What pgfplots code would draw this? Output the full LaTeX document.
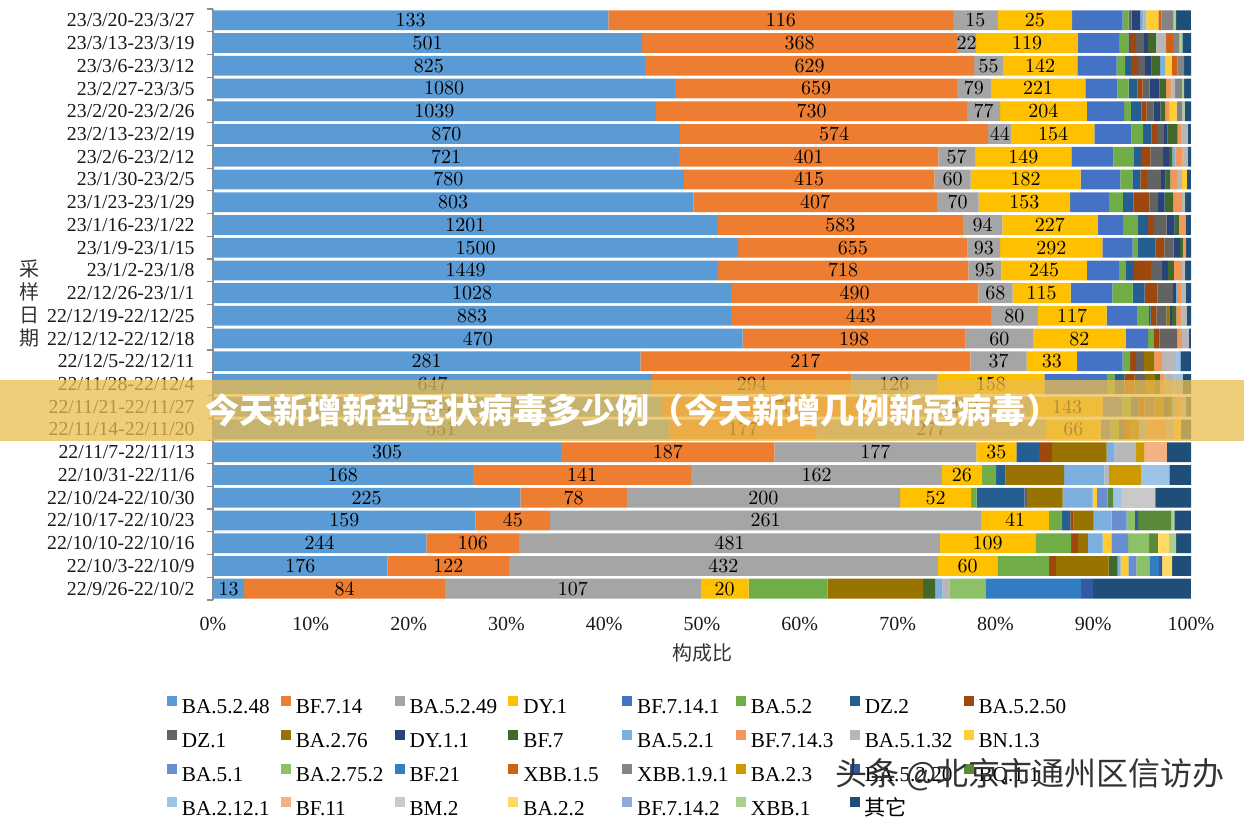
\documentclass[border=0pt]{standalone}
\usepackage{pgfplots}
\pgfplotsset{compat=1.18}
\usepackage{pgfplotstable}
\usepackage{fontspec}
\setmainfont{Liberation Serif}
\newfontfamily\cjk{Noto Sans CJK SC}

% variant colours, in series order
\definecolor{v1}{HTML}{5B9BD5}
\definecolor{v2}{HTML}{ED7D31}
\definecolor{v3}{HTML}{A5A5A5}
\definecolor{v4}{HTML}{FFC000}
\definecolor{v5}{HTML}{4472C4}
\definecolor{v6}{HTML}{70AD47}
\definecolor{v7}{HTML}{255E91}
\definecolor{v8}{HTML}{9E480E}
\definecolor{v9}{HTML}{636363}
\definecolor{v10}{HTML}{997300}
\definecolor{v11}{HTML}{264478}
\definecolor{v12}{HTML}{43682B}
\definecolor{v13}{HTML}{7CAFDD}
\definecolor{v14}{HTML}{F1975A}
\definecolor{v15}{HTML}{B7B7B7}
\definecolor{v16}{HTML}{FFCD33}
\definecolor{v17}{HTML}{698ED0}
\definecolor{v18}{HTML}{8CC168}
\definecolor{v19}{HTML}{327DC2}
\definecolor{v20}{HTML}{D26012}
\definecolor{v21}{HTML}{848484}
\definecolor{v22}{HTML}{CC9A00}
\definecolor{v23}{HTML}{335AA1}
\definecolor{v24}{HTML}{5A8A39}
\definecolor{v25}{HTML}{9DC3E6}
\definecolor{v26}{HTML}{F4B183}
\definecolor{v27}{HTML}{C9C9C9}
\definecolor{v28}{HTML}{FFD966}
\definecolor{v29}{HTML}{8FAADC}
\definecolor{v30}{HTML}{A9D18E}
\definecolor{v31}{HTML}{1F4E79}
\definecolor{bannercol}{RGB}{235,188,79}

% weekly case counts per variant (row 0 = 22/9/26-22/10/2, row 25 = 23/3/20-23/3/27)
\pgfplotstableread{
y c1 c2 c3 c4 c5 c6 c7 c8 c9 c10 c11 c12 c13 c14 c15 c16 c17 c18 c19 c20 c21 c22 c23 c24 c25 c26 c27 c28 c29 c30 c31
0 13 84 107 20 0 33 0 0 0 40 0 5 3 0 3 0 0 15 40 0 0 0 5 0 0 0 0 0 0 0 41
1 176 122 432 60 0 52 0 7 0 53 0 9 3 0 0 8 8 13 10 0 0 0 3 0 0 0 0 10 0 0 19
2 244 106 481 109 0 41 0 8 0 11 0 0 17 0 0 10 19 24 0 0 0 0 0 10 0 0 0 13 0 8 17
3 159 45 261 41 0 8 5 2 0 12 0 0 11 0 0 0 9 5 0 0 0 0 2 20 0 0 0 0 0 2 10
4 225 78 200 52 0 4 35 0 2 26 0 0 22 0 0 3 8 0 0 0 0 0 0 4 6 0 25 0 0 0 26
5 168 141 162 26 0 9 6 0 0 38 0 0 26 0 3 0 0 0 0 0 0 21 0 0 18 0 0 0 0 0 14
6 305 187 177 35 0 0 20 11 0 48 0 0 7 0 19 0 0 0 0 0 0 7 0 0 0 20 0 0 0 0 21
7 551 177 277 66 12 10 6 6 0 12 0 0 8 25 10 8 0 0 0 0 0 0 0 0 0 0 0 0 0 0 12
8 904 473 272 143 40 16 16 12 20 20 8 8 8 10 10 0 0 0 0 0 0 0 0 0 0 0 0 0 0 0 10
9 647 294 126 158 93 10 15 15 15 15 0 7 0 7 15 0 0 0 0 0 0 0 0 0 12 0 0 0 0 0 12
10 281 217 37 33 30 5 0 4 5 7 0 0 0 5 9 0 0 0 0 0 0 0 0 0 3 0 0 0 0 0 7
11 470 198 60 82 20 5 0 5 16 0 0 0 0 4 6 0 0 0 0 0 0 0 0 0 0 0 0 0 0 0 2
12 883 443 80 117 53 19 3 10 17 5 5 7 0 9 9 0 0 0 0 0 0 0 0 0 0 0 0 0 0 0 7
13 1028 490 68 115 83 40 24 26 30 0 6 0 4 6 10 0 0 0 0 0 0 0 0 0 0 0 0 0 0 0 10
14 1449 718 95 245 92 20 23 49 32 0 17 17 0 23 9 0 0 0 0 0 0 0 0 0 0 0 0 0 0 0 17
15 1500 655 93 292 86 14 51 26 26 0 19 8 0 9 0 0 0 0 0 0 0 0 0 0 0 0 0 0 0 0 14
16 1201 583 94 227 60 36 24 14 30 0 19 10 0 17 0 0 0 0 0 0 0 0 0 0 0 0 0 0 0 0 12
17 803 407 70 153 65 23 18 27 14 0 11 14 0 15 5 0 0 0 0 0 0 0 0 0 0 0 0 0 0 0 10
18 780 415 60 182 66 20 13 11 23 0 8 8 0 11 8 8 0 0 0 0 0 0 0 0 0 0 0 0 0 0 7
19 721 401 57 149 65 31 12 14 20 0 9 5 5 11 8 0 0 0 0 0 0 0 0 0 0 0 0 0 0 0 5
20 870 574 44 154 69 22 15 11 13 0 6 19 0 6 13 0 0 0 0 0 0 0 0 0 0 0 0 0 0 0 6
21 1039 730 77 204 87 16 25 12 16 0 16 12 0 10 0 16 0 0 0 0 14 0 0 0 0 0 0 0 0 5 15
22 1080 659 79 221 75 26 21 12 16 0 23 16 0 12 9 0 0 0 0 0 16 0 0 0 0 0 0 0 0 5 16
23 825 629 55 142 75 16 11 14 13 0 13 16 10 0 0 12 0 0 0 11 13 0 0 0 0 0 0 0 0 0 13
24 501 368 22 119 48 11 2 7 9 0 5 9 0 0 12 0 0 0 0 8 7 0 0 0 0 0 0 0 0 4 10
25 133 116 15 25 17 2 0 0 1 0 3 0 1 0 1 4 0 0 0 1 4 0 0 0 0 0 0 0 0 1 5
}\variants
\pgfplotstablecreatecol[expr={\thisrow{c1}+\thisrow{c2}+\thisrow{c3}+\thisrow{c4}+\thisrow{c5}+\thisrow{c6}+\thisrow{c7}+\thisrow{c8}+\thisrow{c9}+\thisrow{c10}+\thisrow{c11}+\thisrow{c12}+\thisrow{c13}+\thisrow{c14}+\thisrow{c15}+\thisrow{c16}+\thisrow{c17}+\thisrow{c18}+\thisrow{c19}+\thisrow{c20}+\thisrow{c21}+\thisrow{c22}+\thisrow{c23}+\thisrow{c24}+\thisrow{c25}+\thisrow{c26}+\thisrow{c27}+\thisrow{c28}+\thisrow{c29}+\thisrow{c30}+\thisrow{c31}}]{tot}\variants

\newcommand{\lgbox}[1]{\makebox[49.4pt][l]{#1}}
\newcommand{\variant}[2]{%
  \addplot[fill=v#1, draw=none] table[x expr=\thisrow{c#1}/\thisrow{tot}*100, y=y]{\variants};
  \addlegendentry{\lgbox{#2}}}

\begin{document}
\begin{tikzpicture}
\begin{axis}[
  at={(0,0)}, anchor=south west,
  scale only axis, width=489pt, height=295.5pt,
  xbar stacked, bar width=0.87,
  xmin=0, xmax=100, ymin=-0.5, ymax=25.5,
  axis lines*=left,
  x axis line style={draw=none},
  y axis line style={draw=black!45, line width=0.6pt},
  major tick length=0pt, minor tick length=3pt, tick align=outside,
  minor tick style={draw=black!45, line width=0.6pt},
  xtick={0,10,...,100},
  xticklabels={0\%,10\%,20\%,30\%,40\%,50\%,60\%,70\%,80\%,90\%,100\%},
  ytick={0,...,25},
  minor ytick={-0.5,0.5,...,25.5},
  ytick pos=left,
  yticklabels={22/9/26-22/10/2,22/10/3-22/10/9,22/10/10-22/10/16,22/10/17-22/10/23,22/10/24-22/10/30,22/10/31-22/11/6,22/11/7-22/11/13,22/11/14-22/11/20,22/11/21-22/11/27,22/11/28-22/12/4,22/12/5-22/12/11,22/12/12-22/12/18,22/12/19-22/12/25,22/12/26-23/1/1,23/1/2-23/1/8,23/1/9-23/1/15,23/1/16-23/1/22,23/1/23-23/1/29,23/1/30-23/2/5,23/2/6-23/2/12,23/2/13-23/2/19,23/2/20-23/2/26,23/2/27-23/3/5,23/3/6-23/3/12,23/3/13-23/3/19,23/3/20-23/3/27},
  yticklabel style={font=\fontsize{9.9}{11}\selectfont, text=black!90, inner sep=0pt, xshift=-9pt},
  xticklabel style={font=\fontsize{10}{11}\selectfont, text=black!90, inner sep=0pt, yshift=-8.5pt},
  xlabel={\cjk 构成比},
  xlabel style={at={(axis description cs:0.5,0)}, anchor=center, yshift=-26.5pt, font=\fontsize{10}{11}\selectfont, text=black!80},
  legend columns=8,
  legend image code/.code={\fill[#1, draw=none] (0pt,0.9pt) rectangle (5pt,5.9pt);},
  legend style={draw=none, fill=none, inner sep=0pt, outer sep=0pt,
    at={(0,0)}, anchor=north west, xshift=-23pt, yshift=-48pt,
    font=\fontsize{10.6}{12}\selectfont, row sep=6pt,
    nodes={inner sep=0pt, text height=8pt, text depth=2pt},
    /tikz/every odd column/.append style={column sep=2.5pt}},
]
\variant{1}{BA.5.2.48}
\variant{2}{BF.7.14}
\variant{3}{BA.5.2.49}
\variant{4}{DY.1}
\variant{5}{BF.7.14.1}
\variant{6}{BA.5.2}
\variant{7}{DZ.2}
\variant{8}{BA.5.2.50}
\variant{9}{DZ.1}
\variant{10}{BA.2.76}
\variant{11}{DY.1.1}
\variant{12}{BF.7}
\variant{13}{BA.5.2.1}
\variant{14}{BF.7.14.3}
\variant{15}{BA.5.1.32}
\variant{16}{BN.1.3}
\variant{17}{BA.5.1}
\variant{18}{BA.2.75.2}
\variant{19}{BF.21}
\variant{20}{XBB.1.5}
\variant{21}{XBB.1.9.1}
\variant{22}{BA.2.3}
\variant{23}{BA.5.2.20}
\variant{24}{BQ.1.1}
\variant{25}{BA.2.12.1}
\variant{26}{BF.11}
\variant{27}{BM.2}
\variant{28}{BA.2.2}
\variant{29}{BF.7.14.2}
\variant{30}{XBB.1}
\variant{31}{\cjk 其它}
\end{axis}

% count labels centred on the four main variants
\begin{axis}[
  at={(0,0)}, anchor=south west,
  scale only axis, width=489pt, height=295.5pt,
  xmin=0, xmax=100, ymin=-0.5, ymax=25.5,
  hide axis, clip=false,
  nodes near coords, point meta=explicit,
  nodes near coords={\pgfmathprintnumber[1000 sep={}, fixed, precision=0]{\pgfplotspointmeta}},
  every node near coord/.append style={anchor=center, inner sep=0pt,
    font=\fontsize{10.3}{11}\selectfont, text=black},
]
\addplot[draw=none, mark=none] table[x expr=0.5*\thisrow{c1}/\thisrow{tot}*100, y=y, meta=c1]{\variants};
\addplot[draw=none, mark=none] table[x expr=(\thisrow{c1}+0.5*\thisrow{c2})/\thisrow{tot}*100, y=y, meta=c2]{\variants};
\addplot[draw=none, mark=none] table[x expr=(\thisrow{c1}+\thisrow{c2}+0.5*\thisrow{c3})/\thisrow{tot}*100, y=y, meta=c3]{\variants};
\addplot[draw=none, mark=none] table[x expr=(\thisrow{c1}+\thisrow{c2}+\thisrow{c3}+0.5*\thisrow{c4})/\thisrow{tot}*100, y=y, meta=c4]{\variants};
\end{axis}

% vertical axis title
\node[font=\cjk\fontsize{10}{11.5}\selectfont, align=center, text=black!80] at (-91.5pt,148pt) {采\\样\\日\\期};

% headline banner
\fill[bannercol, opacity=0.75] (-106.5pt,79.5pt) rectangle (515.5pt,110pt);
\node[anchor=west, text=white, inner sep=0pt, font=\cjk\bfseries\fontsize{17.1}{18}\selectfont] at (-4pt,95pt) {今天新增新型冠状病毒多少例（今天新增几例新冠病毒）};

% account mark
\node[anchor=west, inner sep=0pt, text=black!80, font=\cjk\fontsize{16}{18}\selectfont] at (311pt,-87.5pt) {头条 @北京市通州区信访办};

\path[use as bounding box] (-106.5pt,-111pt) rectangle (515.5pt,300pt);
\end{tikzpicture}
\end{document}
